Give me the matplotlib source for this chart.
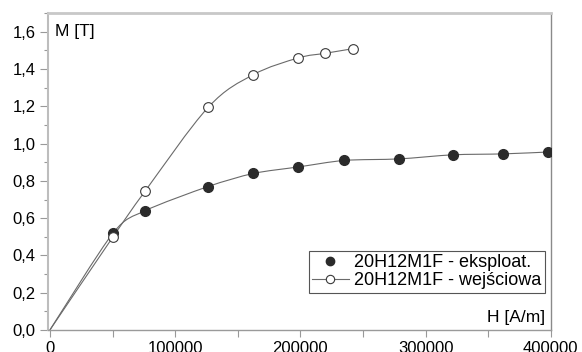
import matplotlib
matplotlib.use("Agg")
import matplotlib.pyplot as plt
from matplotlib.ticker import FuncFormatter, MultipleLocator
from matplotlib.path import Path
from matplotlib.patches import PathPatch
from matplotlib.lines import Line2D

plt.rcParams['font.family'] = ['Liberation Sans', 'DejaVu Sans']

# Data
H_eksp = [0, 50400, 76000, 126400, 162400, 198400, 235200, 278400, 321600, 361600, 397600]
M_eksp = [0.0, 0.52, 0.64, 0.77, 0.84, 0.875, 0.91, 0.918, 0.94, 0.945, 0.955]
H_wej = [0, 50400, 76000, 126400, 162400, 198400, 220000, 242400]
M_wej = [0.0, 0.50, 0.745, 1.195, 1.37, 1.46, 1.485, 1.51]
label_eksp = "20H12M1F - eksploat."
label_wej = "20H12M1F - wejściowa"

line_col = '#6a6a6a'


def smooth_path(xs, ys, k=1 / 6):
    """Catmull-Rom curve through the points, drawn as cubic Bezier segments."""
    pts = list(zip(xs, ys))
    n = len(pts)
    verts = [pts[0]]
    codes = [Path.MOVETO]
    for i in range(n - 1):
        p0 = pts[i - 1] if i > 0 else pts[i]
        p1 = pts[i]
        p2 = pts[i + 1]
        p3 = pts[i + 2] if i + 2 < n else pts[i + 1]
        c1 = (p1[0] + (p2[0] - p0[0]) * k, p1[1] + (p2[1] - p0[1]) * k)
        c2 = (p2[0] - (p3[0] - p1[0]) * k, p2[1] - (p3[1] - p1[1]) * k)
        verts += [c1, c2, p2]
        codes += [Path.CURVE4] * 3
    return Path(verts, codes)


fig = plt.figure(figsize=(5.82, 3.52), dpi=100)
ax = fig.add_axes([0.0825, 0.0625, 0.864, 0.9])

ax.add_patch(PathPatch(smooth_path(H_eksp, M_eksp, 0.14), fc='none', ec=line_col, lw=0.8, zorder=2))
ax.add_patch(PathPatch(smooth_path(H_wej, M_wej), fc='none', ec=line_col, lw=0.8, zorder=2))
ax.plot(H_eksp[1:], M_eksp[1:], ls='none', marker='o', ms=7, mfc='#2b2b2b', mec='#2b2b2b', zorder=3)
ax.plot(H_wej[1:], M_wej[1:], ls='none', marker='o', ms=7, mfc='white', mec='#3a3a3a', mew=0.8, zorder=4)

ax.set_xlim(-1500, 400000)
ax.set_ylim(0, 1.7)
ax.xaxis.set_major_locator(MultipleLocator(100000))
ax.xaxis.set_minor_locator(MultipleLocator(50000))
ax.yaxis.set_major_locator(MultipleLocator(0.2))
ax.yaxis.set_minor_locator(MultipleLocator(0.1))
ax.yaxis.set_major_formatter(FuncFormatter(lambda v, p: f"{v:.1f}".replace('.', ',')))
ax.xaxis.set_major_formatter(FuncFormatter(lambda v, p: f"{int(round(v))}"))

ax.tick_params(axis='both', which='both', direction='out', colors='#999999', labelcolor='black', labelsize=12)
ax.tick_params(axis='y', which='major', length=6, width=0.8, pad=3)
ax.tick_params(axis='y', which='minor', length=3, width=0.8)
ax.tick_params(axis='x', which='both', length=5, width=0.8, pad=3)

ax.spines['left'].set_color('#bdbdbd')
ax.spines['left'].set_linewidth(1.5)
ax.spines['top'].set_color('#c8c8c8')
ax.spines['top'].set_linewidth(2)
ax.spines['right'].set_color('#8a8a8a')
ax.spines['right'].set_linewidth(1)
ax.spines['bottom'].set_color('#9a9a9a')
ax.spines['bottom'].set_linewidth(1)

ax.text(0.014, 0.965, "M [T]", transform=ax.transAxes, ha='left', va='top', fontsize=12.5)
ax.text(0.988, 0.015, "H [A/m]", transform=ax.transAxes, ha='right', va='bottom', fontsize=12.5)

h1 = Line2D([], [], ls='none', marker='o', ms=6, mfc='#2b2b2b', mec='#2b2b2b')
h2 = Line2D([], [], color=line_col, lw=0.8, marker='o', ms=6, mfc='white', mec='#3a3a3a', mew=0.8)
leg = ax.legend([h1, h2], [label_eksp, label_wej], loc='lower right', bbox_to_anchor=(0.988, 0.117),
                fontsize=13, frameon=True, fancybox=False, handlelength=2.0, handletextpad=0.3,
                borderpad=0.2, labelspacing=0.05, borderaxespad=0, framealpha=1)
leg.get_frame().set_edgecolor('#555555')
leg.get_frame().set_linewidth(0.8)

fig.savefig("out.png", dpi=100)
